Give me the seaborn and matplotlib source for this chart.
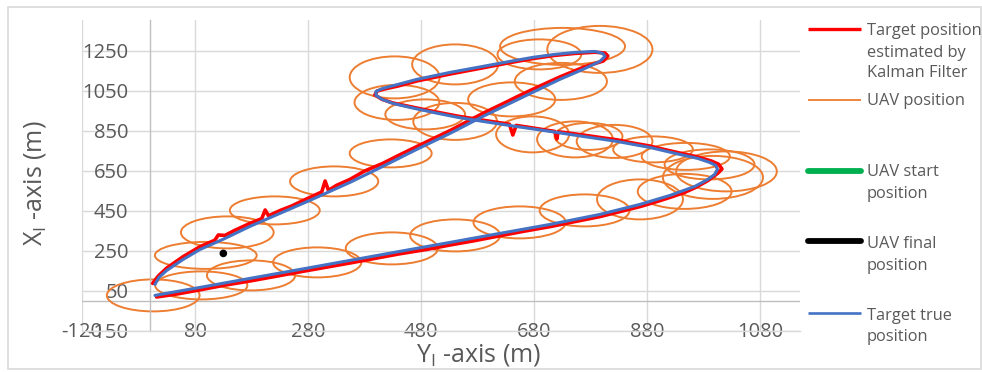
import matplotlib
matplotlib.use("Agg")
import matplotlib.pyplot as plt
import seaborn as sns
import pandas as pd
from matplotlib.patches import Ellipse, Rectangle
from matplotlib.lines import Line2D

# ---------------- data (Y_I horizontal, X_I vertical, metres) ----------------
true_y = [9, 89, 177, 266, 354, 442, 531, 619, 708, 796, 867, 920, 964, 987, 999, 1004,
          1001, 990, 969, 937, 884, 826, 766, 708, 647, 589, 545, 501, 460, 430, 411, 400,
          400, 412, 439, 472, 531, 589, 637, 677, 716, 752, 787, 801, 805, 796, 766, 725,
          677, 633, 589, 531, 472, 412, 354, 283, 230, 177, 133, 89, 59, 30, 16, 9]
true_x = [28, 68, 113, 158, 203, 248, 293, 338, 383, 433, 483, 528, 573, 608, 633, 658,
          678, 693, 713, 733, 768, 798, 823, 848, 873, 898, 918, 943, 968, 988, 1008, 1028,
          1048, 1063, 1083, 1108, 1143, 1173, 1198, 1218, 1233, 1243, 1248, 1238, 1223, 1198,
          1158, 1108, 1043, 983, 923, 838, 758, 673, 593, 503, 438, 373, 313, 258, 208, 153, 118, 83]

kf_y = [12, 50, 89, 130, 177, 220, 266, 310, 354, 400, 442, 490, 531, 575, 619, 660, 708,
        750, 796, 830, 867, 900, 920, 945, 964, 987, 1005, 1012, 1006, 993,
        969, 937, 900, 884, 850, 826, 800, 766, 735, 722, 720, 716, 680, 648, 642, 636,
        589, 545, 501, 460, 430, 411, 398, 402, 415,
        439, 472, 531, 589, 637, 677, 716, 752, 787, 805, 810, 802,
        770, 725, 677, 650, 633, 589, 560, 531, 500, 472, 440, 412, 380, 354, 330, 316,
        310, 304, 283, 250, 230, 210, 204, 198, 177, 150, 133, 121, 115, 89, 59, 30, 15, 5]
kf_x = [20, 36, 56, 78, 100, 122, 146, 168, 190, 214, 236, 258, 280, 302, 326, 348, 372,
        396, 422, 446, 472, 500, 518, 542, 566, 602, 640, 660, 684, 700,
        720, 740, 764, 775, 792, 806, 816, 830, 842, 846, 810, 848, 864, 878, 830, 884,
        904, 924, 948, 972, 990, 1008, 1030, 1050, 1060,
        1075, 1100, 1135, 1166, 1192, 1212, 1228, 1238, 1244, 1240, 1225, 1200,
        1172, 1120, 1058, 1022, 998, 938, 895, 852, 810, 772, 728, 688, 650, 608, 578, 553,
        600, 545, 518, 474, 452, 426, 455, 412, 388, 353, 328, 330, 304, 272, 222, 165, 125, 88]

# UAV loitering loops: centre (Y, X), width (Y extent), height (X extent)
uav_cy = [6, 91, 179, 296, 428, 540, 654, 769, 867, 946, 996, 990, 1020, 948, 890, 822,
          752, 677, 540, 487, 437, 433, 540, 640, 727, 730, 796, 426, 326, 221, 137, 99, 689,
          776]
uav_cx = [28, 78, 128, 193, 263, 328, 393, 453, 508, 548, 618, 683, 648, 723, 758, 798,
          808, 833, 898, 933, 993, 1118, 1183, 1008, 1098, 1273, 1258, 738, 598, 453, 343, 228,
          1233, 823]
uav_w = [164, 163, 156, 156, 163, 159, 163, 159, 152, 166, 177, 159, 178, 156, 141, 134,
         134, 129, 148, 141, 150, 159, 152, 154, 163, 221, 186, 145, 156, 159, 164, 180, 148,
         120]
uav_h = [160, 140, 150, 150, 160, 160, 160, 160, 200, 175, 215, 150, 200, 135, 130, 165,
         180, 180, 185, 150, 175, 210, 200, 170, 185, 185, 235, 140, 150, 140, 160, 135, 150,
         135]

uav_final_y = [130]
uav_final_x = [238]

x_ticks = [-120, 80, 280, 480, 680, 880, 1080]
y_ticks = [-150, 50, 250, 450, 650, 850, 1050, 1250]

legend_labels = [["Target position", "estimated by", "Kalman Filter"],
                 ["UAV position"],
                 ["UAV start", "position"],
                 ["UAV final", "position"],
                 ["Target true", "position"]]

# ---------------- styling ----------------
sns.set_theme(style="white")
plt.rcParams["font.family"] = ["Open Sans", "DejaVu Sans"]
plt.rcParams["mathtext.fontset"] = "custom"
plt.rcParams["mathtext.rm"] = "Open Sans"
plt.rcParams["mathtext.it"] = "Open Sans:italic"
plt.rcParams["axes.unicode_minus"] = False

C_RED = "#FF0000"
C_ORANGE = "#ED7D31"
C_BLUE = "#4472C4"
C_GREEN = "#00B050"
C_TEXT = "#595959"
C_GRID = "#D9D9D9"
C_AXIS = "#BFBFBF"

W, H = 982, 372
fig = plt.figure(figsize=(W / 100, H / 100), dpi=100)
ax = fig.add_axes([82 / W, 1 - 331 / H, (800 - 82) / W, (331 - 20) / H])
ax.set_facecolor("none")

# chart border
fig.add_artist(Rectangle((8 / W, 1 - 369 / H), (981 - 8) / W, (369 - 7) / H,
                         transform=fig.transFigure, fill=False, edgecolor=C_GRID, lw=1.2))

ax.set_xlim(-120, 1150)
ax.set_ylim(-150, 1405)
ax.set_xticks(x_ticks)
ax.set_yticks(y_ticks)
ax.grid(True, color=C_GRID, lw=1.0)
ax.set_axisbelow(True)
for s in ["top", "right"]:
    ax.spines[s].set_visible(False)
ax.spines["bottom"].set_color(C_GRID)
ax.spines["bottom"].set_linewidth(1.0)
ax.spines["left"].set_position(("data", 0))
ax.spines["left"].set_color(C_AXIS)
ax.spines["left"].set_linewidth(1.0)
ax.axhline(0, color=C_AXIS, lw=1.0, zorder=1)

ax.tick_params(axis="y", length=0, pad=15.5, labelsize=14.5, labelcolor=C_TEXT)
ax.tick_params(axis="x", length=0, pad=-6.5, labelsize=14.5, labelcolor=C_TEXT)

# UAV loops
for cy, cx, w, h in zip(uav_cy, uav_cx, uav_w, uav_h):
    ax.add_patch(Ellipse((cy, cx), w, h, fill=False, edgecolor=C_ORANGE, lw=1.4, zorder=2))

kf_df = pd.DataFrame({"Y": kf_y, "X": kf_x})
true_df = pd.DataFrame({"Y": true_y, "X": true_x})
sns.lineplot(data=kf_df, x="Y", y="X", sort=False, estimator=None, color=C_RED,
             lw=2.6, ax=ax, zorder=3)
sns.lineplot(data=true_df, x="Y", y="X", sort=False, estimator=None, color=C_BLUE,
             lw=2.2, ax=ax, zorder=4)
sns.scatterplot(x=uav_final_y, y=uav_final_x, color="black", s=30, ax=ax, zorder=5,
                edgecolor="none")
ax.set_xlabel("")
ax.set_ylabel("")

# axis titles
fig.text(35 / W, 1 - 183 / H, r"X$_\mathrm{I}$ -axis (m)", rotation=90, ha="center",
         va="center", fontsize=18, color=C_TEXT)
fig.text(479 / W, 1 - 355 / H, r"Y$_\mathrm{I}$ -axis (m)", ha="center", va="center",
         fontsize=18, color=C_TEXT)

# legend
leg_handles = [(29, C_RED, 2.4, "butt"), (100, C_ORANGE, 1.3, "butt"),
               (171, C_GREEN, 4.2, "round"), (241, "black", 4.2, "round"),
               (313, C_BLUE, 1.9, "butt")]
text_rows = [[31, 53, 73], [101], [172, 194], [244, 266], [316, 337]]
for (yy, col, lw, cap), lines, rows in zip(leg_handles, legend_labels, text_rows):
    fig.add_artist(Line2D([808 / W, 861 / W], [1 - yy / H, 1 - yy / H], color=col, lw=lw,
                          solid_capstyle=cap, transform=fig.transFigure))
    for t, r in zip(lines, rows):
        fig.text(867 / W, 1 - r / H, t, ha="left", va="center", fontsize=11.8, color=C_TEXT)

fig.savefig("out.png", dpi=100)
